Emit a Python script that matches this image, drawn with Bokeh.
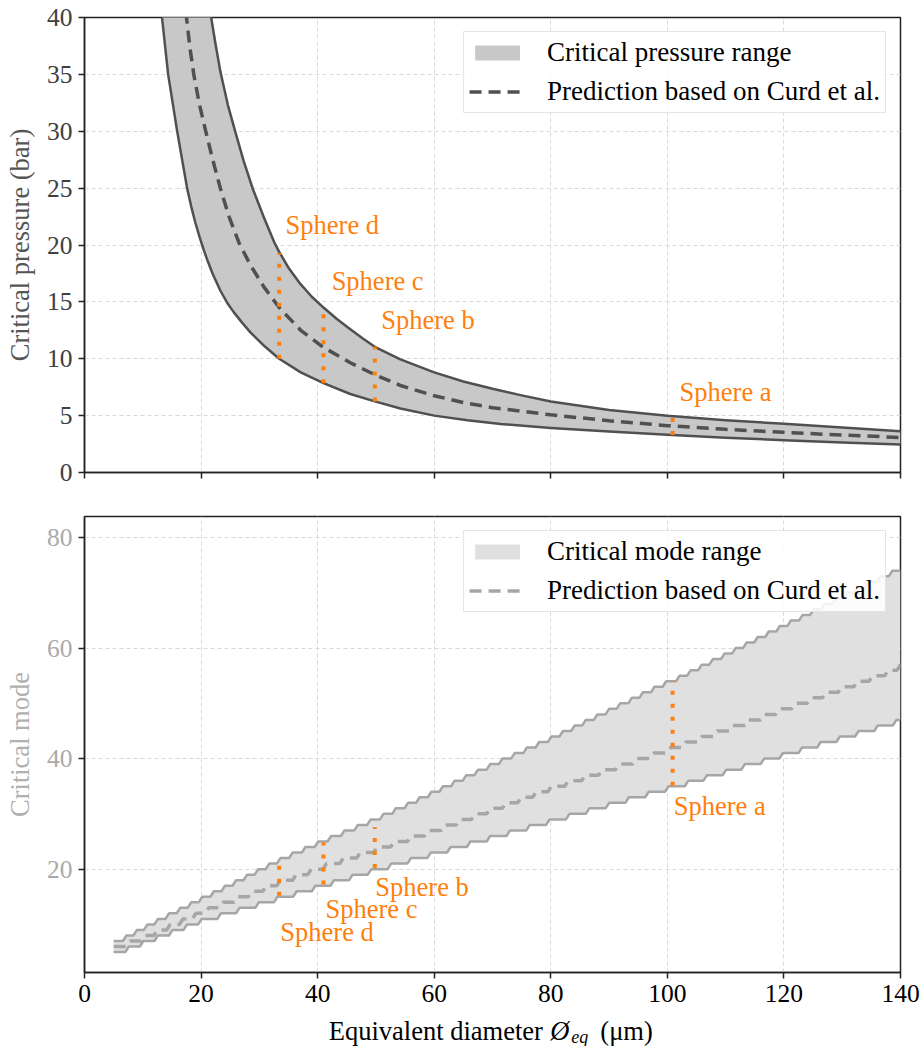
from bokeh.plotting import figure
from bokeh.layouts import column
from bokeh.models import Legend, LegendItem, FixedTicker, Range1d
from bokeh.core.properties import value
from bokeh.embed import file_html
from bokeh.resources import INLINE

# ---------------- data ----------------
# Top panel: critical pressure (bar) vs equivalent diameter (um)
press_upper_x = [20.0, 21.0, 21.73, 22.5, 23.33, 24.6, 25.9, 27.3, 28.9, 30.8, 32.5, 33.4, 35.0, 37.0, 39.0, 41.0,
                 43.3, 45.6, 47.7, 49.8, 54.2, 60.0, 65.0, 70.0, 75.0, 80.0, 90.0, 100.0, 110.0, 120.0, 130.0, 140.0]
press_upper_y = [46.5, 42.5, 40.0, 37.6, 35.2, 32.3, 29.9, 27.4, 24.9, 22.4, 20.3, 19.4, 18.0, 16.6, 15.45, 14.5,
                 13.5, 12.6, 11.8, 11.05, 9.95, 8.8, 8.0, 7.36, 6.78, 6.25, 5.5, 4.99, 4.6, 4.28, 3.95, 3.63]
press_lower_x = [12.0, 12.6, 13.3, 14.35, 15.9, 17.6, 18.3, 19.0, 19.8, 20.5, 21.2, 22.0, 23.3, 24.5, 25.6, 27.0,
                 28.5, 31.0, 33.4, 37.1, 41.0, 45.6, 49.8, 54.2, 60.0, 65.7, 71.4, 80.0, 90.0, 100.0, 110.0,
                 120.0, 130.0, 140.0]
press_lower_y = [48.0, 44.0, 40.0, 35.0, 30.0, 25.0, 23.4, 22.0, 20.6, 19.5, 18.5, 17.45, 16.0, 14.9, 14.1, 13.2,
                 12.3, 11.05, 10.0, 8.8, 7.85, 6.9, 6.25, 5.62, 5.0, 4.6, 4.27, 3.92, 3.6, 3.32, 3.06,
                 2.84, 2.64, 2.46]
press_pred_x = [16.5, 17.0, 17.5, 18.1, 18.75, 19.7, 20.8, 22.0, 23.3, 24.8, 26.5, 28.5, 30.8, 33.4, 37.1, 41.0,
                45.6, 49.8, 54.2, 60.0, 65.0, 70.0, 80.0, 90.0, 100.0, 110.0, 120.0, 130.0, 140.0]
press_pred_y = [45.5, 42.6, 40.0, 37.3, 35.0, 32.4, 30.0, 27.5, 25.0, 22.5, 20.2, 18.2, 16.3, 14.5, 12.5, 11.0,
                9.65, 8.6, 7.65, 6.75, 6.15, 5.7, 5.07, 4.55, 4.12, 3.8, 3.53, 3.29, 3.08]

# Bottom panel: critical mode (integer) -- diameter at which each mode starts
mode_upper_x = [5.0, 6.6, 8.4, 10.2, 12.0, 13.9, 15.8, 17.7, 19.6, 21.6, 23.5, 25.4, 27.3, 29.2, 31.1, 33.0,
                35.1, 37.3, 39.5, 41.7, 44.0, 46.3, 48.5, 50.7, 52.8, 54.9, 56.9, 58.9, 60.9, 62.9, 64.9, 66.9,
                69.0, 71.1, 73.2, 75.3, 77.4, 79.5, 81.5, 83.5, 85.4, 87.4, 89.4, 91.3, 93.3, 95.2, 97.2, 99.2,
                101.5, 103.4, 105.3, 107.2, 109.2, 111.1, 113.0, 114.9, 116.8, 118.7, 120.6, 122.6, 124.5, 126.4,
                128.3, 130.2, 132.1, 134.0, 136.0, 138.0]
mode_upper_m = [7, 8, 9, 10, 11, 12, 13, 14, 15, 16, 17, 18, 19, 20, 21, 22,
                23, 24, 25, 26, 27, 28, 29, 30, 31, 32, 33, 34, 35, 36, 37, 38,
                39, 40, 41, 42, 43, 44, 45, 46, 47, 48, 49, 50, 51, 52, 53, 54,
                55, 56, 57, 58, 59, 60, 61, 62, 63, 64, 65, 66, 67, 68,
                69, 70, 71, 72, 73, 74]
mode_lower_x = [5.0, 7.0, 9.5, 12.0, 14.5, 17.0, 19.5, 22.8, 26.0, 29.3, 32.5, 35.8, 39.0, 42.2, 45.4, 48.6,
                52.0, 55.4, 58.8, 62.2, 65.6, 69.0, 72.4, 75.8, 79.2, 82.6, 86.0, 89.4, 92.8, 96.2, 99.6,
                103.0, 106.2, 109.5, 112.7, 116.0, 119.2, 122.5, 125.7, 129.0, 132.2, 135.5, 138.7]
mode_lower_m = [5, 6, 7, 8, 9, 10, 11, 12, 13, 14, 15, 16, 17, 18, 19, 20,
                21, 22, 23, 24, 25, 26, 27, 28, 29, 30, 31, 32, 33, 34, 35,
                36, 37, 38, 39, 40, 41, 42, 43, 44, 45, 46, 47]
mode_pred_x = [5.0, 7.3, 9.6, 11.9, 14.1, 16.3, 18.5, 20.7, 23.2, 25.7, 28.1, 30.6, 33.0, 35.7, 38.3, 40.9,
               43.8, 46.7, 49.6, 52.5, 55.4, 58.3, 61.2, 63.8, 66.4, 69.0, 71.7, 74.3, 76.9, 79.5, 82.4,
               85.3, 88.2, 91.1, 94.0, 97.0, 100.0, 102.6, 105.3, 108.0, 110.6, 113.3, 116.0, 118.6, 121.3,
               124.0, 126.6, 129.3, 132.0, 134.6, 137.3, 139.4]
mode_pred_m = [6, 7, 8, 9, 10, 11, 12, 13, 14, 15, 16, 17, 18, 19, 20, 21,
               22, 23, 24, 25, 26, 27, 28, 29, 30, 31, 32, 33, 34, 35, 36,
               37, 38, 39, 40, 41, 42, 43, 44, 45, 46, 47, 48, 49, 50,
               51, 52, 53, 54, 55, 56, 57]
mode_x_end = 140.0

# Spheres
sphere_names = ["Sphere a", "Sphere b", "Sphere c", "Sphere d"]
sphere_diam = [100.9, 49.8, 41.0, 33.4]
sphere_press_low = [3.3, 6.25, 7.85, 10.0]
sphere_press_high = [4.97, 11.05, 14.5, 19.3]
sphere_mode_low = [35.1, 20.2, 17.2, 15.2]
sphere_mode_high = [54.0, 27.6, 24.8, 20.6]

# annotation anchor points (text middles) for the sphere names
label_top_x = [102.1, 50.9, 42.4, 34.5]
label_top_y = [7.1, 13.4, 16.8, 21.75]
label_bot_x = [101.1, 49.9, 41.35, 33.6]
label_bot_y = [31.4, 16.7, 12.7, 8.6]

x_ticks = [0, 20, 40, 60, 80, 100, 120, 140]
press_ticks = [0, 5, 10, 15, 20, 25, 30, 35, 40]
mode_ticks = [20, 40, 60, 80]

# x-axis title pieces: text, left position (um)
xtitle_text = ["Equivalent diameter", "Ø", "eq", "(μm)"]
xtitle_x = [41.9, 79.9, 83.5, 88.5]

# ---------------- styling ----------------
FONT = "Liberation Serif"
ORANGE = "#ff7f0e"
DARK = "#505050"
LIGHT = "#a6a6a6"


def stair(xs, ms, x_end, riser=0.6):
    """Build a staircase path in data space from the step start points."""
    px, py = [], []
    for i in range(len(xs)):
        nx = xs[i + 1] if i + 1 < len(xs) else x_end
        start = xs[i] + (riser if i > 0 else 0.0)
        px += [start, nx]
        py += [ms[i], ms[i]]
    return px, py


def style(p, tick_color, label_color, show_x_labels):
    p.outline_line_color = "#222222"
    p.outline_line_width = 1.5
    p.background_fill_color = "white"
    p.border_fill_color = "white"
    for g in (p.xgrid[0], p.ygrid[0]):
        g.grid_line_color = "#d9d9d9"
        g.grid_line_dash = "4 3"
        g.grid_line_width = 1
    for ax in (p.xaxis[0], p.yaxis[0]):
        ax.axis_line_color = "#222222"
        ax.axis_line_width = 1.5
        ax.major_tick_line_color = "#222222"
        ax.major_tick_line_width = 1.5
        ax.major_tick_out = 6
        ax.major_tick_in = 0
        ax.minor_tick_line_color = None
        ax.major_label_text_font = FONT
        ax.major_label_text_font_size = "25.5px"
        ax.major_label_standoff = 6
        ax.axis_label_text_font = FONT
        ax.axis_label_text_font_size = "26.5px"
        ax.axis_label_text_font_style = "normal"
    p.yaxis[0].major_label_text_color = tick_color
    p.yaxis[0].axis_label_text_color = label_color
    p.yaxis[0].axis_label_standoff = 9
    if show_x_labels:
        p.xaxis[0].major_label_text_color = "black"
    else:
        p.xaxis[0].major_label_text_color = None
        p.xaxis[0].major_label_standoff = 0


def legend(p, items):
    lg = Legend(items=items, location="top_right")
    lg.label_text_font = FONT
    lg.label_text_font_size = "27px"
    lg.label_text_color = "black"
    lg.glyph_width = 56
    lg.glyph_height = 19
    lg.label_height = 30
    lg.label_standoff = 22
    lg.padding = 5
    lg.spacing = 8
    lg.margin = 14
    lg.border_line_color = "#cccccc"
    lg.border_line_width = 1.5
    lg.background_fill_alpha = 0.85
    p.add_layout(lg)


x_range = Range1d(0, 140)

# ---------------- top panel ----------------
p1 = figure(width=921, height=513, x_range=x_range, y_range=Range1d(0, 40),
            output_backend="svg", toolbar_location=None, title=None,
            min_border_left=84, min_border_right=21, min_border_top=17, min_border_bottom=41)
style(p1, "#404040", "#555555", False)
p1.xaxis[0].ticker = FixedTicker(ticks=x_ticks)
p1.yaxis[0].ticker = FixedTicker(ticks=press_ticks)
p1.yaxis[0].axis_label = "Critical pressure (bar)"

band1 = p1.patch(press_upper_x + press_lower_x[::-1], press_upper_y + press_lower_y[::-1],
                 fill_color="#c8c8c8", line_color=None)
p1.line(press_upper_x, press_upper_y, line_color=DARK, line_width=2.5, line_join="round")
p1.line(press_lower_x, press_lower_y, line_color=DARK, line_width=2.5, line_join="round")
pred1 = p1.line(press_pred_x, press_pred_y, line_color=DARK, line_width=3.5, line_dash="12 7")
p1.segment(x0=sphere_diam, y0=sphere_press_low, x1=sphere_diam, y1=sphere_press_high,
           line_color=ORANGE, line_width=4, line_dash="4 9")
p1.text(x=label_top_x, y=label_top_y, text=sphere_names, text_font=value(FONT),
        text_font_size="26.5px", text_color=ORANGE, text_align="left", text_baseline="middle")
legend(p1, [LegendItem(label="Critical pressure range", renderers=[band1]),
            LegendItem(label="Prediction based on Curd et al.", renderers=[pred1])])

# ---------------- bottom panel ----------------
p2 = figure(width=921, height=503, x_range=x_range, y_range=Range1d(1.3, 83.8),
            output_backend="svg", toolbar_location=None, title=None,
            min_border_left=84, min_border_right=21, min_border_top=3, min_border_bottom=44)
style(p2, "#aaaaaa", "#b0b0b0", True)
p2.xaxis[0].ticker = FixedTicker(ticks=x_ticks)
p2.yaxis[0].ticker = FixedTicker(ticks=mode_ticks)
p2.yaxis[0].axis_label = "Critical mode"

ux, uy = stair(mode_upper_x, mode_upper_m, mode_x_end)
lx, ly = stair(mode_lower_x, mode_lower_m, mode_x_end)
qx, qy = stair(mode_pred_x, mode_pred_m, mode_x_end)
band2 = p2.patch(ux + lx[::-1], uy + ly[::-1], fill_color="#e0e0e0", line_color=None)
p2.line(ux, uy, line_color=LIGHT, line_width=2.5)
p2.line(lx, ly, line_color=LIGHT, line_width=2.5)
pred2 = p2.line(qx, qy, line_color=LIGHT, line_width=3.5, line_dash="12 7")
p2.segment(x0=sphere_diam, y0=sphere_mode_low, x1=sphere_diam, y1=sphere_mode_high,
           line_color=ORANGE, line_width=4, line_dash="4 9")
p2.text(x=label_bot_x, y=label_bot_y, text=sphere_names, text_font=value(FONT),
        text_font_size="26.5px", text_color=ORANGE, text_align="left", text_baseline="middle")
legend(p2, [LegendItem(label="Critical mode range", renderers=[band2]),
            LegendItem(label="Prediction based on Curd et al.", renderers=[pred2])])

# ---------------- x-axis title strip ----------------
p3 = figure(width=921, height=30, x_range=x_range, y_range=Range1d(0, 30),
            output_backend="svg", toolbar_location=None, title=None,
            x_axis_location=None, y_axis_location=None,
            min_border_left=84, min_border_right=21, min_border_top=0, min_border_bottom=0)
p3.outline_line_color = None
p3.xgrid.visible = False
p3.ygrid.visible = False
p3.text(x=[xtitle_x[0]], y=[16], text=[xtitle_text[0]], text_font=value(FONT),
        text_font_size="26.5px", text_color="black", text_baseline="middle")
p3.text(x=[xtitle_x[1]], y=[16], text=[xtitle_text[1]], text_font=value(FONT), text_font_style="italic",
        text_font_size="26.5px", text_color="black", text_baseline="middle")
p3.text(x=[xtitle_x[2]], y=[10], text=[xtitle_text[2]], text_font=value(FONT), text_font_style="italic",
        text_font_size="18px", text_color="black", text_baseline="middle")
p3.text(x=[xtitle_x[3]], y=[16], text=[xtitle_text[3]], text_font=value(FONT),
        text_font_size="26.5px", text_color="black", text_baseline="middle")

layout = column(p1, p2, p3, spacing=0)
open("out.html", "w").write(file_html(layout, INLINE))
